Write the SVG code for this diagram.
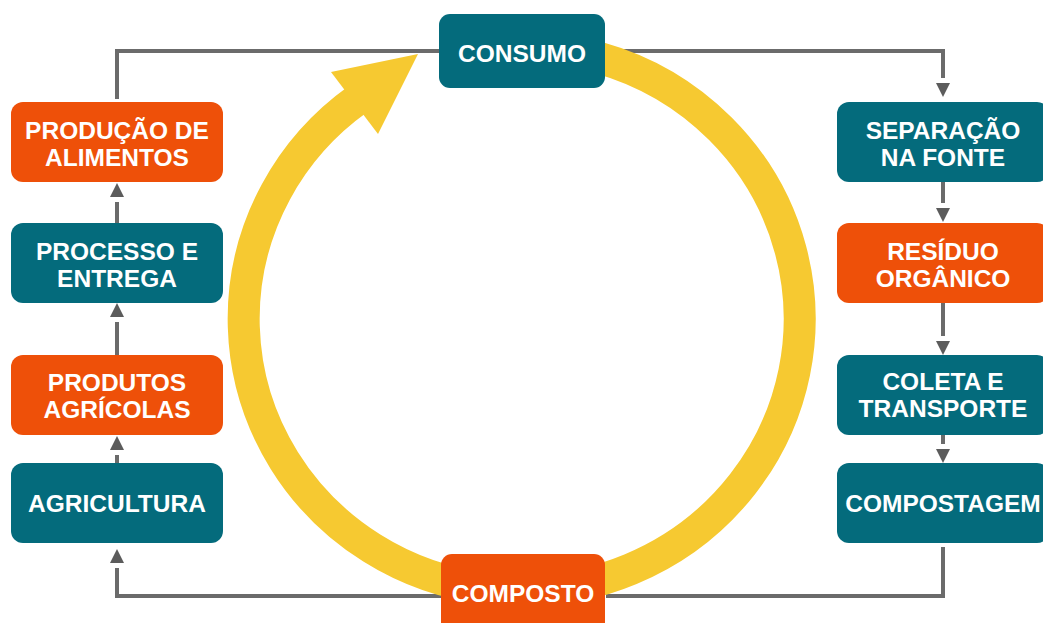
<svg xmlns="http://www.w3.org/2000/svg" width="1043" height="623" viewBox="0 0 1043 623">
  <style>
    .teal { fill: #046b7c; }
    .orange { fill: #ee5009; }
    .lbl { font-family: "Liberation Sans", Arial, sans-serif; font-weight: bold; font-size: 24.5px; fill: #ffffff; text-anchor: middle; }
    .conn { fill: none; stroke: #6b6b6b; stroke-width: 4; stroke-linejoin: miter; }
    .arrow { marker-end: url(#tri); }
  </style>
  <defs>
    <marker id="tri" markerUnits="userSpaceOnUse" markerWidth="22" markerHeight="16" refX="0" refY="7" orient="auto" overflow="visible">
      <path d="M5,0 L19,7 L5,14 Z" fill="#5c5c5c"/>
    </marker>
  </defs>
  <rect width="1043" height="623" fill="#ffffff"/>

  <g id="connectors">
    <path class="conn arrow" d="M605 51 H943 V78"/>
    <path class="conn arrow" d="M943 182 V203"/>
    <path class="conn arrow" d="M943 303 V336"/>
    <path class="conn arrow" d="M943 435 V444"/>
    <path class="conn" d="M943 547 V596 H606"/>
    <path class="conn arrow" d="M441 596 H117 V568"/>
    <path class="conn arrow" d="M117 463 V455"/>
    <path class="conn arrow" d="M117 355 V322"/>
    <path class="conn arrow" d="M117 223 V202"/>
    <path class="conn" d="M117 99 V51 H439"/>
  </g>

  <g id="cycle-arrow">
    <path d="M473.2 51.1 A278 272 0 1 1 358.1 99" fill="none" stroke="#f6c931" stroke-width="32"/>
    <polygon points="418,54 331,72 378,134" fill="#f6c931"/>
  </g>

  <g id="consumo">
    <rect class="teal" x="439" y="14" width="166" height="74" rx="11"/>
    <text class="lbl" x="522" y="62">CONSUMO</text>
  </g>
  <g id="composto">
    <rect class="orange" x="441" y="554" width="164" height="80" rx="11"/>
    <text class="lbl" x="523" y="602">COMPOSTO</text>
  </g>

  <g id="producao-de-alimentos">
    <rect class="orange" x="11" y="102" width="212" height="80" rx="12"/>
    <text class="lbl" x="117" y="139">PRODUÇÃO DE</text>
    <text class="lbl" x="117" y="166">ALIMENTOS</text>
  </g>
  <g id="processo-e-entrega">
    <rect class="teal" x="11" y="223" width="212" height="80" rx="12"/>
    <text class="lbl" x="117" y="260">PROCESSO E</text>
    <text class="lbl" x="117" y="287">ENTREGA</text>
  </g>
  <g id="produtos-agricolas">
    <rect class="orange" x="11" y="355" width="212" height="80" rx="12"/>
    <text class="lbl" x="117" y="391">PRODUTOS</text>
    <text class="lbl" x="117" y="418">AGRÍCOLAS</text>
  </g>
  <g id="agricultura">
    <rect class="teal" x="11" y="463" width="212" height="80" rx="12"/>
    <text class="lbl" x="117" y="512">AGRICULTURA</text>
  </g>

  <g id="separacao-na-fonte">
    <rect class="teal" x="837" y="102" width="212" height="80" rx="12"/>
    <text class="lbl" x="943" y="139">SEPARAÇÃO</text>
    <text class="lbl" x="943" y="166">NA FONTE</text>
  </g>
  <g id="residuo-organico">
    <rect class="orange" x="837" y="223" width="212" height="80" rx="12"/>
    <text class="lbl" x="943" y="260">RESÍDUO</text>
    <text class="lbl" x="943" y="287">ORGÂNICO</text>
  </g>
  <g id="coleta-e-transporte">
    <rect class="teal" x="837" y="355" width="212" height="80" rx="12"/>
    <text class="lbl" x="943" y="390">COLETA E</text>
    <text class="lbl" x="943" y="417">TRANSPORTE</text>
  </g>
  <g id="compostagem">
    <rect class="teal" x="837" y="463" width="212" height="80" rx="12"/>
    <text class="lbl" x="943" y="512">COMPOSTAGEM</text>
  </g>
</svg>
